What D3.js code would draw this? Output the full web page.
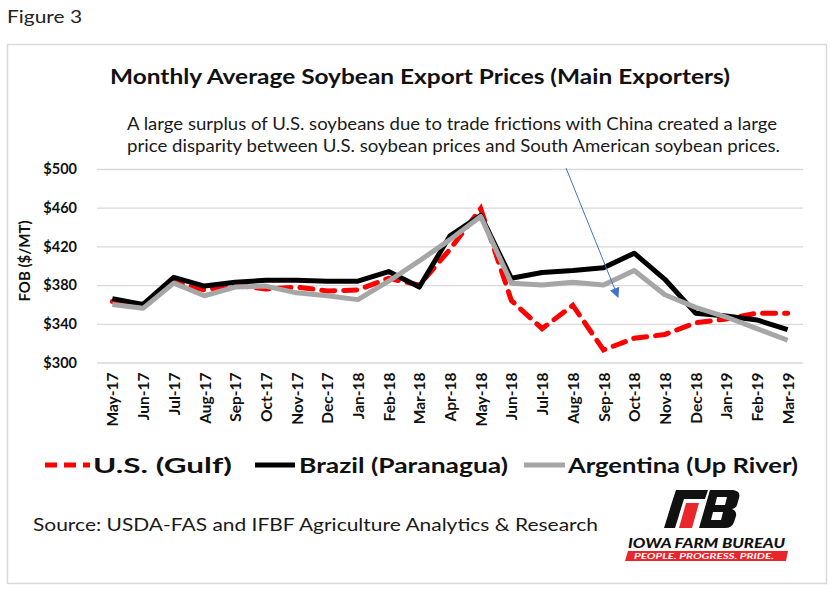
<!DOCTYPE html>
<html><head><meta charset="utf-8">
<script src="https://cdn.jsdelivr.net/npm/d3@7"></script>
<style>
html,body{margin:0;padding:0;background:#fff;}
svg{display:block;font-family:Lato,"Open Sans",sans-serif;}
</style></head>
<body>
<svg id="chart" width="833" height="593"></svg>
<script>
const months = ["May-17","Jun-17","Jul-17","Aug-17","Sep-17","Oct-17","Nov-17","Dec-17","Jan-18","Feb-18","Mar-18","Apr-18","May-18","Jun-18","Jul-18","Aug-18","Sep-18","Oct-18","Nov-18","Dec-18","Jan-19","Feb-19","Mar-19"];
const usGulf    = [363,358,383,375,380,376,378,374,375,387,380,417,459,364,335,359,313,325,329,341,345,351,351];
const brazil    = [366,360,388,379,383,385,385,384,384,394,378,431,452,387,393,395,398,413,386,351,348,344,334];
const argentina = [360,356,382,369,378,379,372,369,365,384,405,427,451,382,380,383,380,395,370,357,347,335,323];
const yTicks = [300,340,380,420,460,500];
const seriesNames = ["U.S. (Gulf)","Brazil (Paranagua)","Argentina (Up River)"];

const svg = d3.select("#chart");

// frame
svg.append("rect").attr("x",7.5).attr("y",44.5).attr("width",819).attr("height",539)
  .attr("fill","#fff").attr("stroke","#d9d9d9").attr("stroke-width",1.5);

svg.append("text").attr("x",7).attr("y",23).attr("font-size",18).attr("fill","#222")
  .attr("textLength",75).attr("lengthAdjust","spacingAndGlyphs").text("Figure 3");

svg.append("text").attr("x",110).attr("y",84).attr("font-size",20.5).attr("font-weight","bold")
  .attr("fill","#111").attr("textLength",620).attr("lengthAdjust","spacingAndGlyphs")
  .text("Monthly Average Soybean Export Prices (Main Exporters)");

svg.append("text").attr("x",127).attr("y",130).attr("font-size",17).attr("fill","#1a1a1a")
  .attr("textLength",650).attr("lengthAdjust","spacingAndGlyphs")
  .text("A large surplus of U.S. soybeans due to trade frictions with China created a large");
svg.append("text").attr("x",127).attr("y",152).attr("font-size",17).attr("fill","#1a1a1a")
  .attr("textLength",653).attr("lengthAdjust","spacingAndGlyphs")
  .text("price disparity between U.S. soybean prices and South American soybean prices.");

const x = d3.scalePoint().domain(months).range([97,803]).padding(0.5);
const y = d3.scaleLinear().domain([300,500]).range([362.5,169]);

// gridlines
const yAxis = d3.axisLeft(y).tickValues(yTicks).tickSize(-(803-97)).tickFormat(d=>"$"+d);
const gy = svg.append("g").attr("transform","translate(97,0)").call(yAxis);
gy.select(".domain").remove();
gy.selectAll(".tick line").attr("stroke","#d9d9d9").attr("stroke-width",1.3);
gy.selectAll(".tick text").attr("x",-20).attr("font-size",14.5).attr("font-weight","bold")
  .attr("fill","#111").attr("font-family","Lato,sans-serif");

// x axis labels
const xAxis = d3.axisBottom(x).tickSize(0);
const gx = svg.append("g").attr("transform","translate(0,362.5)").call(xAxis);
gx.select(".domain").remove();
gx.selectAll(".tick text").attr("transform","translate(0,10) rotate(-90)")
  .attr("text-anchor","end").attr("x",0).attr("y",0).attr("dy","0.36em")
  .attr("font-size",15.5).attr("font-weight","bold").attr("fill","#111")
  .attr("font-family","Lato,sans-serif");

svg.append("text").attr("transform","translate(30,261) rotate(-90)").attr("text-anchor","middle")
  .attr("font-size",15).attr("font-weight","bold").attr("fill","#111").text("FOB ($/MT)");

const line = d3.line().x((d,i)=>x(months[i])).y(d=>y(d));
svg.append("path").datum(usGulf).attr("d",line).attr("fill","none").attr("stroke","#ff0000")
  .attr("stroke-width",5).attr("stroke-dasharray","13,9").attr("stroke-linecap","round");
svg.append("path").datum(brazil).attr("d",line).attr("fill","none").attr("stroke","#000")
  .attr("stroke-width",5).attr("stroke-linejoin","round");
svg.append("path").datum(argentina).attr("d",line).attr("fill","none").attr("stroke","#a6a6a6")
  .attr("stroke-width",5).attr("stroke-linejoin","round");

// arrow
const defs = svg.append("defs");
defs.append("marker").attr("id","ah").attr("viewBox","0 0 10 10").attr("refX",9).attr("refY",5)
  .attr("markerWidth",10).attr("markerHeight",10).attr("markerUnits","userSpaceOnUse").attr("orient","auto")
  .append("path").attr("d","M0,0 L10,5 L0,10 z").attr("fill","#4472c4");
svg.append("line").attr("x1",566).attr("y1",168).attr("x2",618).attr("y2",297)
  .attr("stroke","#4472c4").attr("stroke-width",1).attr("marker-end","url(#ah)");

// legend
const legend = [
  {name:seriesNames[0], color:"#ff0000", dash:"12,7", x1:45, x2:90, tx:93, tl:139},
  {name:seriesNames[1], color:"#000", dash:null, x1:255, x2:295, tx:299, tl:209},
  {name:seriesNames[2], color:"#a6a6a6", dash:null, x1:524, x2:565, tx:568, tl:230}
];
legend.forEach(l=>{
  svg.append("line").attr("x1",l.x1).attr("x2",l.x2).attr("y1",465).attr("y2",465)
    .attr("stroke",l.color).attr("stroke-width",5).attr("stroke-dasharray",l.dash);
  svg.append("text").attr("x",l.tx).attr("y",473).attr("font-size",21).attr("font-weight","bold")
    .attr("fill","#111").attr("textLength",l.tl).attr("lengthAdjust","spacingAndGlyphs").text(l.name);
});

svg.append("text").attr("x",33).attr("y",531).attr("font-size",17).attr("fill","#1a1a1a")
  .attr("textLength",565).attr("lengthAdjust","spacingAndGlyphs")
  .text("Source:  USDA-FAS and IFBF Agriculture Analytics & Research");

// logo
const lg = svg.append("g");
lg.append("polygon").attr("points","676,490 708,490 705,499 673,499").attr("fill","#111");
lg.append("polygon").attr("points","673,499 684,499 675,528 664,528").attr("fill","#111");
lg.append("polygon").attr("points","686,503 699,503 692,528 679,528").attr("fill","#e8262b");
lg.append("path").attr("d","M710,490 L733,490 Q741,491 739,498 L737,505 Q736,508 732,509 Q737,511 736,516 L734,522 Q732,528 725,528 L699,528 Z").attr("fill","#111");
lg.append("polygon").attr("points","717,497 727,497 725,505 715,505").attr("fill","#fff");
lg.append("polygon").attr("points","713,512 723,512 721,520 711,520").attr("fill","#fff");
lg.append("text").attr("x",628).attr("y",548).attr("font-size",13).attr("font-weight","900")
  .attr("font-style","italic").attr("fill","#111").attr("textLength",157).attr("lengthAdjust","spacingAndGlyphs")
  .text("IOWA FARM BUREAU");
lg.append("polygon").attr("points","628,551 788,551 786,561 625,561").attr("fill","#e8262b");
lg.append("text").attr("x",634).attr("y",559).attr("font-size",7.5).attr("font-weight","bold")
  .attr("font-style","italic").attr("fill","#fff").attr("textLength",140).attr("lengthAdjust","spacingAndGlyphs")
  .text("PEOPLE. PROGRESS. PRIDE.");
</script>
</body></html>
